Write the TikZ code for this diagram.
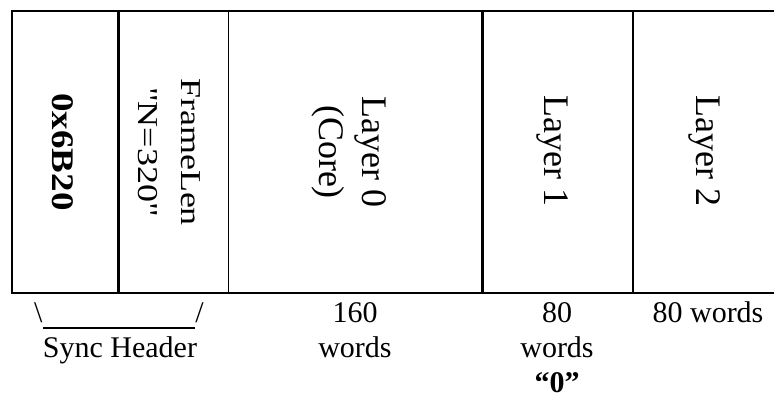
\documentclass[tikz,border=0pt]{standalone}
\usepackage{fontspec}
\setmainfont{Liberation Serif}[Ligatures=TeXOff]
\begin{document}
\begin{tikzpicture}[x=1pt,y=-1pt,
  vlabel/.style={rotate=-90, inner sep=0pt, anchor=center, font=\fontsize{36}{43}\selectfont},
  blabel/.style={inner sep=0pt, anchor=base, font=\fontsize{30}{35}\selectfont},
  heavyrule/.style={line width=2.4pt},
  lightrule/.style={line width=1pt}]
\useasboundingbox (0,0) rectangle (774,394);
\clip (0,0) rectangle (774,394);
% frame
\draw[heavyrule] (800,11) -- (12,11) -- (12,293) -- (800,293);
\draw[heavyrule] (118.5,11) -- (118.5,293);
\draw[lightrule] (228,11) -- (228,293);
\draw[heavyrule] (482.5,11) -- (482.5,293);
\draw[heavyrule] (633,11) -- (633,293);
% column texts
\node[vlabel] (sync) at (63,152) {\scalebox{1}[0.85]{\fontsize{37}{43}\selectfont\bfseries 0x6B20}};
\node[vlabel] (flen) at (169,152) {\scalebox{1}[0.8]{\fontsize{36}{54}\selectfont\begin{tabular}{@{}c@{}}FrameLen\\"N=320"\end{tabular}}};
\node[vlabel] (l0) at (350,152) {\begin{tabular}{@{}c@{}}Layer 0\\(Core)\end{tabular}};
\node[vlabel] (l1) at (552,151) {Layer 1};
\node[vlabel] (l2) at (705,151) {Layer 2};
% bottom labels
\node[blabel] (brace) at (119,322) {\textbackslash\rule[-6.5pt]{153pt}{1.1pt}/};
\node[blabel] (synclbl) at (120,357) {Sync Header};
\node[blabel] (w160) at (355,322) {\begin{tabular}[t]{@{}c@{}}160\\words\end{tabular}};
\node[blabel] (w80a) at (557,322) {\begin{tabular}[t]{@{}c@{}}80\\words\\\textbf{“0”}\end{tabular}};
\node[blabel] (w80b) at (708,322) {80 words};
\end{tikzpicture}
\end{document}
